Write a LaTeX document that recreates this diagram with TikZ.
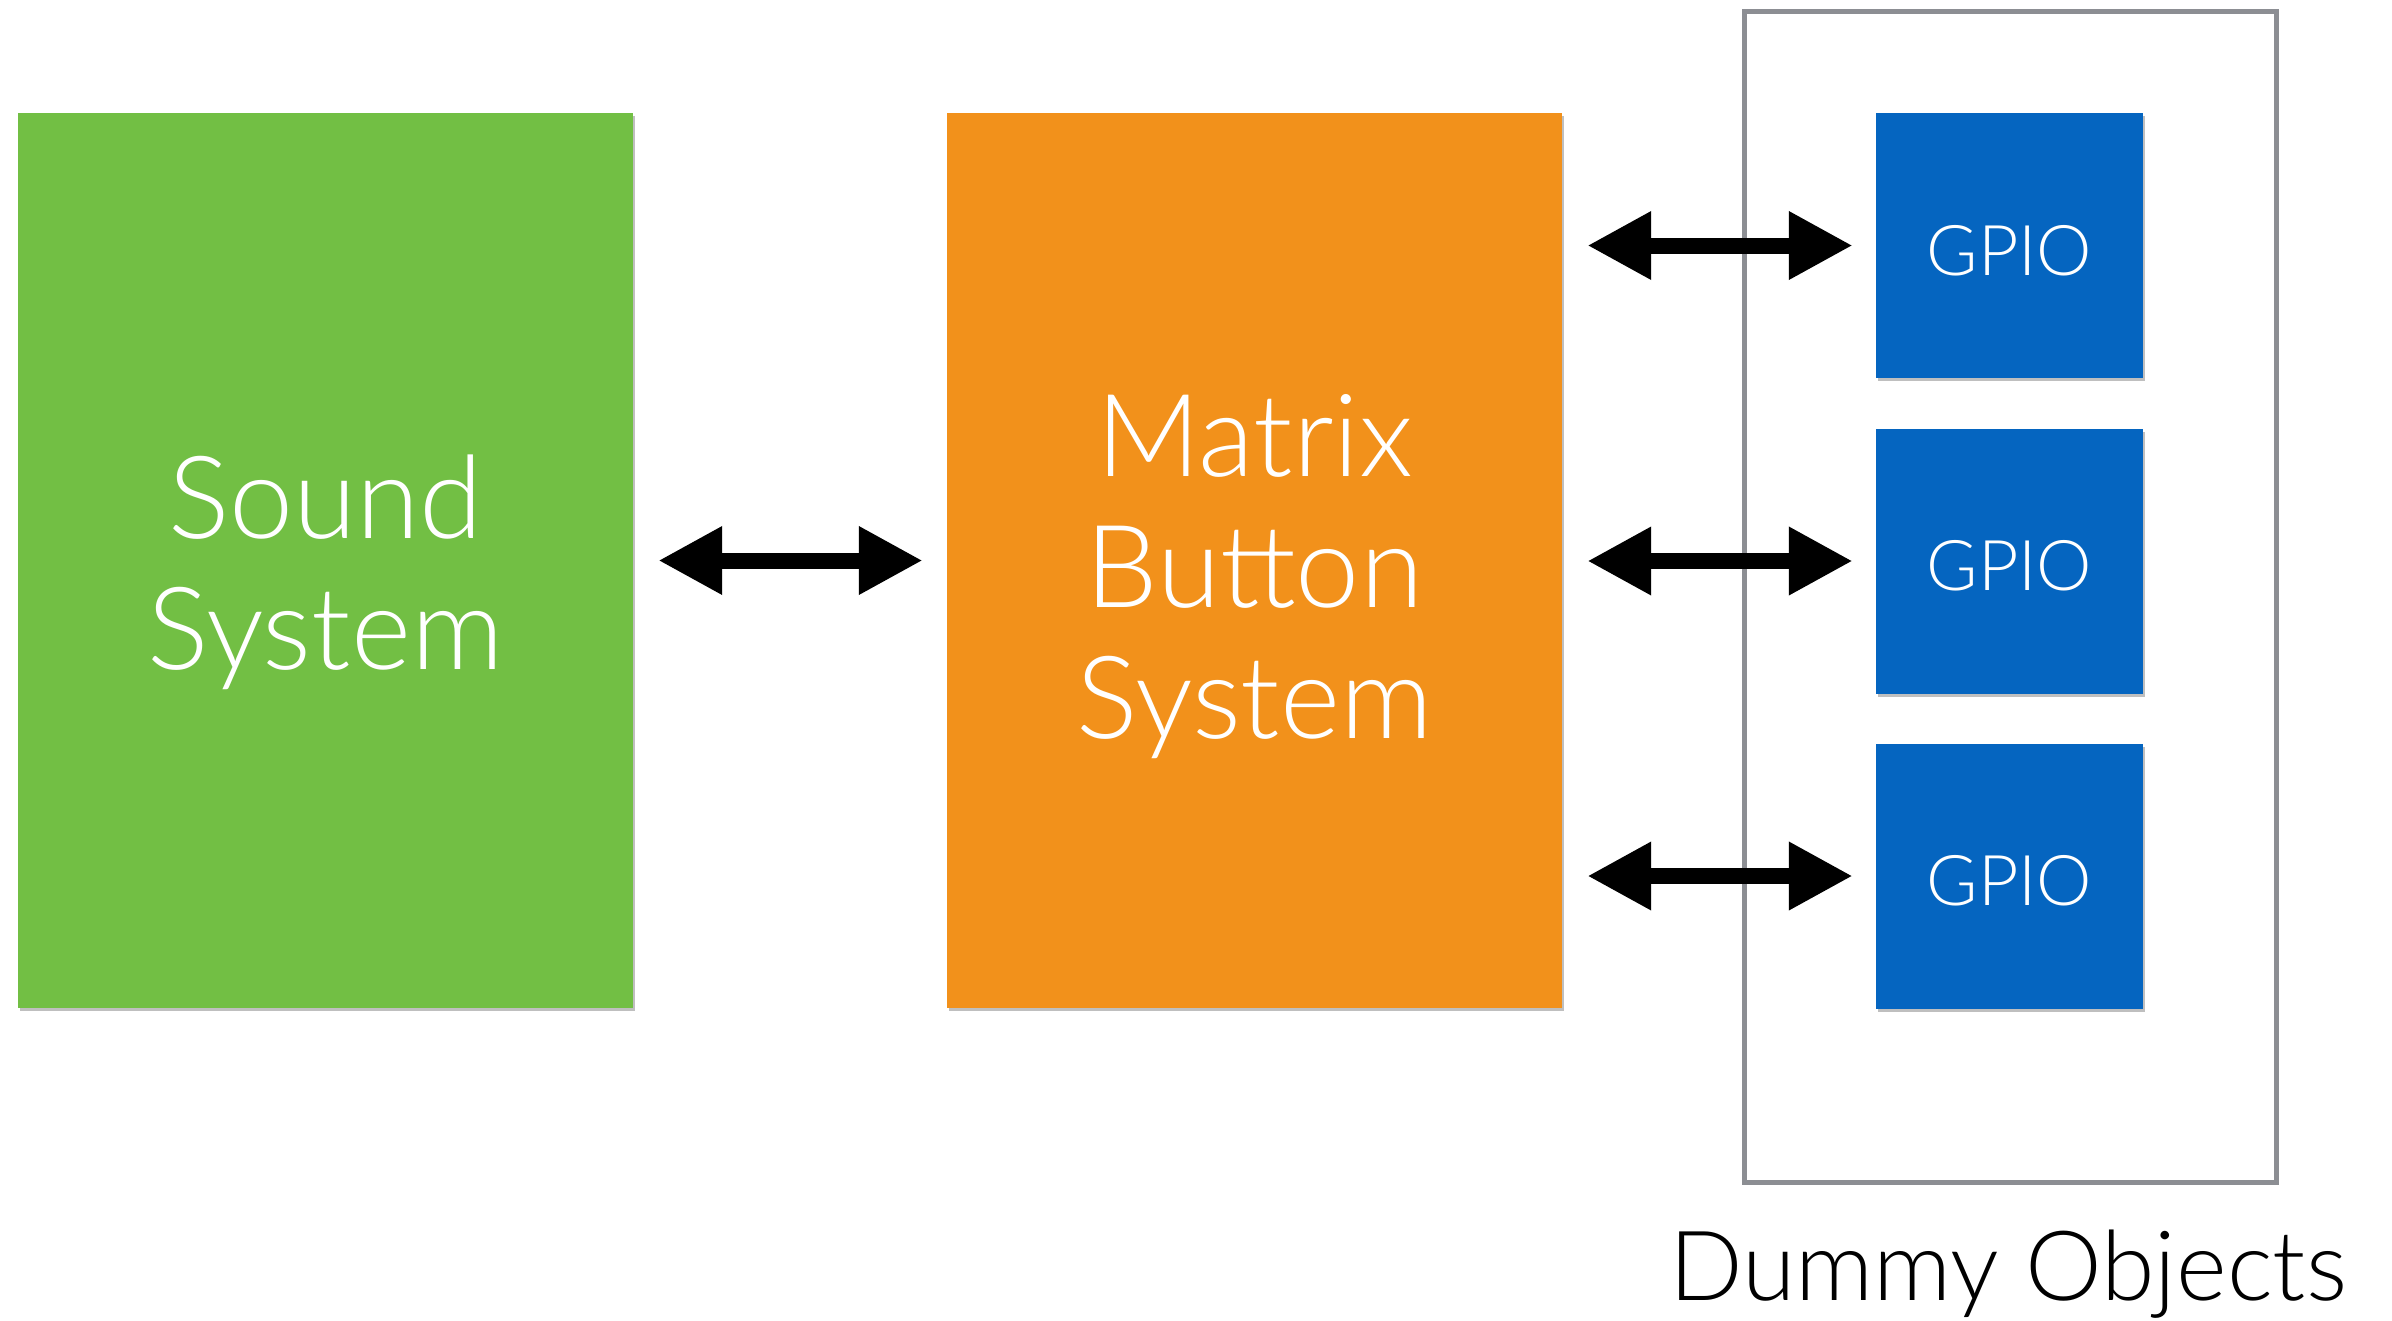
\documentclass[tikz,border=0pt]{standalone}
\usepackage{fontspec}
\setmainfont{Lato}[UprightFont={* Light}]
\usetikzlibrary{arrows.meta,shadows}
\definecolor{sgreen}{RGB}{114,191,68}
\definecolor{sorange}{RGB}{242,145,27}
\definecolor{sblue}{RGB}{5,101,192}
\definecolor{sframe}{RGB}{140,142,147}
\tikzset{
  block/.style={draw=none, inner sep=0pt,
    drop shadow={shadow xshift=2pt, shadow yshift=-3pt, opacity=0.25, fill=black}},
  boxtext/.style={text=white, align=center, inner sep=0pt},
  bigblock/.style={block, minimum width=615pt, minimum height=895pt},
  bigtext/.style={boxtext, font=\fontsize{115}{131}\selectfont},
  gpiobox/.style={block, fill=sblue, minimum width=267pt, minimum height=265pt,
    label={[boxtext, font=\fontsize{70}{80}\selectfont, yshift=-5pt]center:GPIO}},
  dbl/.style={line width=16pt, {Triangle[length=64pt,width=64pt]}-{Triangle[length=64pt,width=64pt]}},
}
\begin{document}
\begin{tikzpicture}[x=1pt,y=-1pt]
\useasboundingbox (0,0) rectangle (2392,1320);
\node[draw=sframe, line width=5pt, minimum width=532pt, minimum height=1171pt, inner sep=0pt] (frame) at (2010,596.5) {};
\node[bigblock, fill=sgreen, label={[bigtext, yshift=-12pt]center:{Sound\\System}}] (sound) at (325.5,560.5) {};
\node[bigblock, fill=sorange, label={[bigtext, yshift=-16pt]center:{Matrix\\Button\\System}}] (matrix) at (1254.5,560.5) {};
\node[gpiobox] (g1) at (2009.5,245.5) {};
\node[gpiobox] (g2) at (2009.5,561) {};
\node[gpiobox] (g3) at (2009.5,876) {};
\node[anchor=base, inner sep=0pt, font=\fontsize{97}{110}\selectfont] (label) at (2008,1300) {Dummy Objects};
\draw[dbl] ([xshift=25pt]sound.east) -- ([xshift=-24pt]matrix.west);
\draw[dbl] ([xshift=25pt]matrix.east |- g1.west) -- ([xshift=-23pt]g1.west);
\draw[dbl] ([xshift=25pt]matrix.east |- g2.west) -- ([xshift=-23pt]g2.west);
\draw[dbl] ([xshift=25pt]matrix.east |- g3.west) -- ([xshift=-23pt]g3.west);
\end{tikzpicture}
\end{document}
